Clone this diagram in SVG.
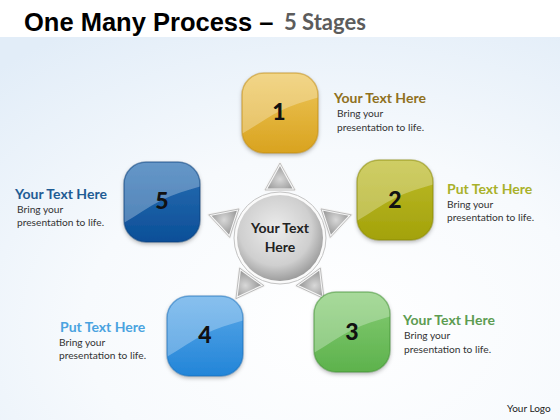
<svg xmlns="http://www.w3.org/2000/svg" width="560" height="420" viewBox="0 0 560 420">
<style>
.num{font-family:Lato,"Open Sans",sans-serif;font-weight:900;font-size:23px;fill:#111;text-anchor:middle}
.hd{font-family:Lato,"Open Sans",sans-serif;font-weight:700;font-size:14px}
.bd{font-family:Lato,"Open Sans",sans-serif;font-size:10.2px;fill:#333}
.ctr{font-family:Lato,"Open Sans",sans-serif;font-weight:700;font-size:14px;fill:#222;text-anchor:middle}
.tri{fill:url(#gTri);stroke:#f6f6f6;stroke-width:3;stroke-linejoin:round}
.triO{fill:none;stroke:#b4b4b4;stroke-width:0.8;stroke-linejoin:round}
.hl{fill:#fff;fill-opacity:0.28}
.ttl{font-family:'Liberation Sans',Arial,sans-serif;font-weight:700;font-size:25.5px;fill:#000}
</style>
<defs>
<radialGradient id="gBg" cx="0.6" cy="0.75" r="0.9">
<stop offset="0" stop-color="#ffffff"/>
<stop offset="0.5" stop-color="#f7fafd"/>
<stop offset="1" stop-color="#e2edf8"/>
</radialGradient>
<linearGradient id="g1" x1="0" y1="0" x2="0" y2="1"><stop offset="0" stop-color="#edc65a"/><stop offset="1" stop-color="#d9a31f"/></linearGradient>
<linearGradient id="g2" x1="0" y1="0" x2="0" y2="1"><stop offset="0" stop-color="#bdbb2a"/><stop offset="1" stop-color="#a3a20a"/></linearGradient>
<linearGradient id="g3" x1="0" y1="0" x2="0" y2="1"><stop offset="0" stop-color="#86cc74"/><stop offset="1" stop-color="#5db24c"/></linearGradient>
<linearGradient id="g4" x1="0" y1="0" x2="0" y2="1"><stop offset="0" stop-color="#5aa8e8"/><stop offset="1" stop-color="#2385d8"/></linearGradient>
<linearGradient id="g5" x1="0" y1="0" x2="0" y2="1"><stop offset="0" stop-color="#2a6fb3"/><stop offset="1" stop-color="#0b4f98"/></linearGradient>
<radialGradient id="gC" cx="0.45" cy="0.4" r="0.6">
<stop offset="0" stop-color="#ececec"/>
<stop offset="0.7" stop-color="#cfcfcf"/>
<stop offset="1" stop-color="#9e9e9e"/>
</radialGradient>
<radialGradient id="gTri" cx="0.5" cy="0.6" r="0.6">
<stop offset="0" stop-color="#d8d8d8"/>
<stop offset="1" stop-color="#8f8f8f"/>
</radialGradient>
<clipPath id="cBox"><rect x="0" y="0" width="76" height="80" rx="22"/></clipPath>
<path id="hlP" d="M-2,-2 H78 V24 C64,28 50,32 38,38 C24,45 12,54 -2,62 Z"/>
<filter id="sh" x="-20%" y="-20%" width="140%" height="150%">
<feDropShadow dx="0" dy="2" stdDeviation="2" flood-color="#000" flood-opacity="0.3"/>
</filter>
<polygon id="triP" points="0,-75 -15,-48 15,-48"/>
</defs>
<rect width="560" height="420" fill="#fff"/>
<rect x="0" y="37" width="560" height="383" fill="url(#gBg)"/>
<text x="24" y="31" class="ttl">One Many Process –</text>
<text x="284" y="30" font-family="Lato,'Open Sans',sans-serif" font-weight="700" font-size="22" fill="#5c5c5c">5 Stages</text>

<g id="connectors">
<g transform="translate(280,238)">
<use href="#triP" class="tri"/><use href="#triP" class="triO"/>
<g transform="rotate(72)"><use href="#triP" class="tri"/><use href="#triP" class="triO"/></g>
<g transform="rotate(144)"><use href="#triP" class="tri"/><use href="#triP" class="triO"/></g>
<g transform="rotate(216)"><use href="#triP" class="tri"/><use href="#triP" class="triO"/></g>
<g transform="rotate(288)"><use href="#triP" class="tri"/><use href="#triP" class="triO"/></g>
</g>
</g>

<g id="center">
<circle cx="280" cy="238" r="46" fill="#fafafa" stroke="#c4c4c4" stroke-width="1"/>
<circle cx="280" cy="238" r="43" fill="url(#gC)"/>
<text x="280" y="233" class="ctr">Your Text</text>
<text x="280" y="252" class="ctr">Here</text>
</g>

<g id="node1">
<g transform="translate(242,73)">
<rect width="76" height="80" rx="22" fill="url(#g1)" filter="url(#sh)"/>
<use href="#hlP" class="hl" clip-path="url(#cBox)"/>
<rect width="76" height="80" rx="22" fill="none" stroke="#c08a10" stroke-opacity="0.5" stroke-width="1.5"/>
</g>
<text x="279" y="120" class="num">1</text>
<text x="334" y="103" class="hd" fill="#8f7020">Your Text Here</text>
<text x="337" y="117" class="bd">Bring your</text>
<text x="337" y="131" class="bd">presentation to life.</text>
</g>

<g id="node2">
<g transform="translate(357,160)">
<rect width="76" height="80" rx="22" fill="url(#g2)" filter="url(#sh)"/>
<use href="#hlP" class="hl" clip-path="url(#cBox)"/>
<rect width="76" height="80" rx="22" fill="none" stroke="#858500" stroke-opacity="0.5" stroke-width="1.5"/>
</g>
<text x="395" y="208" class="num">2</text>
<text x="447" y="194" class="hd" fill="#a9b12a">Put Text Here</text>
<text x="447" y="208" class="bd">Bring your</text>
<text x="447" y="221" class="bd">presentation to life.</text>
</g>

<g id="node3">
<g transform="translate(314,292)">
<rect width="76" height="80" rx="22" fill="url(#g3)" filter="url(#sh)"/>
<use href="#hlP" class="hl" clip-path="url(#cBox)"/>
<rect width="76" height="80" rx="22" fill="none" stroke="#3e8e30" stroke-opacity="0.5" stroke-width="1.5"/>
</g>
<text x="352" y="340" class="num">3</text>
<text x="403" y="325" class="hd" fill="#5d9c52">Your Text Here</text>
<text x="404" y="339" class="bd">Bring your</text>
<text x="404" y="353" class="bd">presentation to life.</text>
</g>

<g id="node4">
<g transform="translate(167,296)">
<rect width="76" height="80" rx="22" fill="url(#g4)" filter="url(#sh)"/>
<use href="#hlP" class="hl" clip-path="url(#cBox)"/>
<rect width="76" height="80" rx="22" fill="none" stroke="#166bb8" stroke-opacity="0.5" stroke-width="1.5"/>
</g>
<text x="205" y="343" class="num">4</text>
<text x="60" y="332" class="hd" fill="#4aa3e0">Put Text Here</text>
<text x="59" y="346" class="bd">Bring your</text>
<text x="59" y="359" class="bd">presentation to life.</text>
</g>

<g id="node5">
<g transform="translate(124,162)">
<rect width="76" height="80" rx="22" fill="url(#g5)" filter="url(#sh)"/>
<use href="#hlP" class="hl" clip-path="url(#cBox)"/>
<rect width="76" height="80" rx="22" fill="none" stroke="#063c78" stroke-opacity="0.5" stroke-width="1.5"/>
</g>
<text x="162" y="209" class="num">5</text>
<text x="15" y="199" class="hd" fill="#1f5c94">Your Text Here</text>
<text x="17" y="213" class="bd">Bring your</text>
<text x="17" y="226" class="bd">presentation to life.</text>
</g>

<text x="507" y="412" font-family="Lato,'Open Sans',sans-serif" font-size="10" fill="#222">Your Logo</text>
</svg>
